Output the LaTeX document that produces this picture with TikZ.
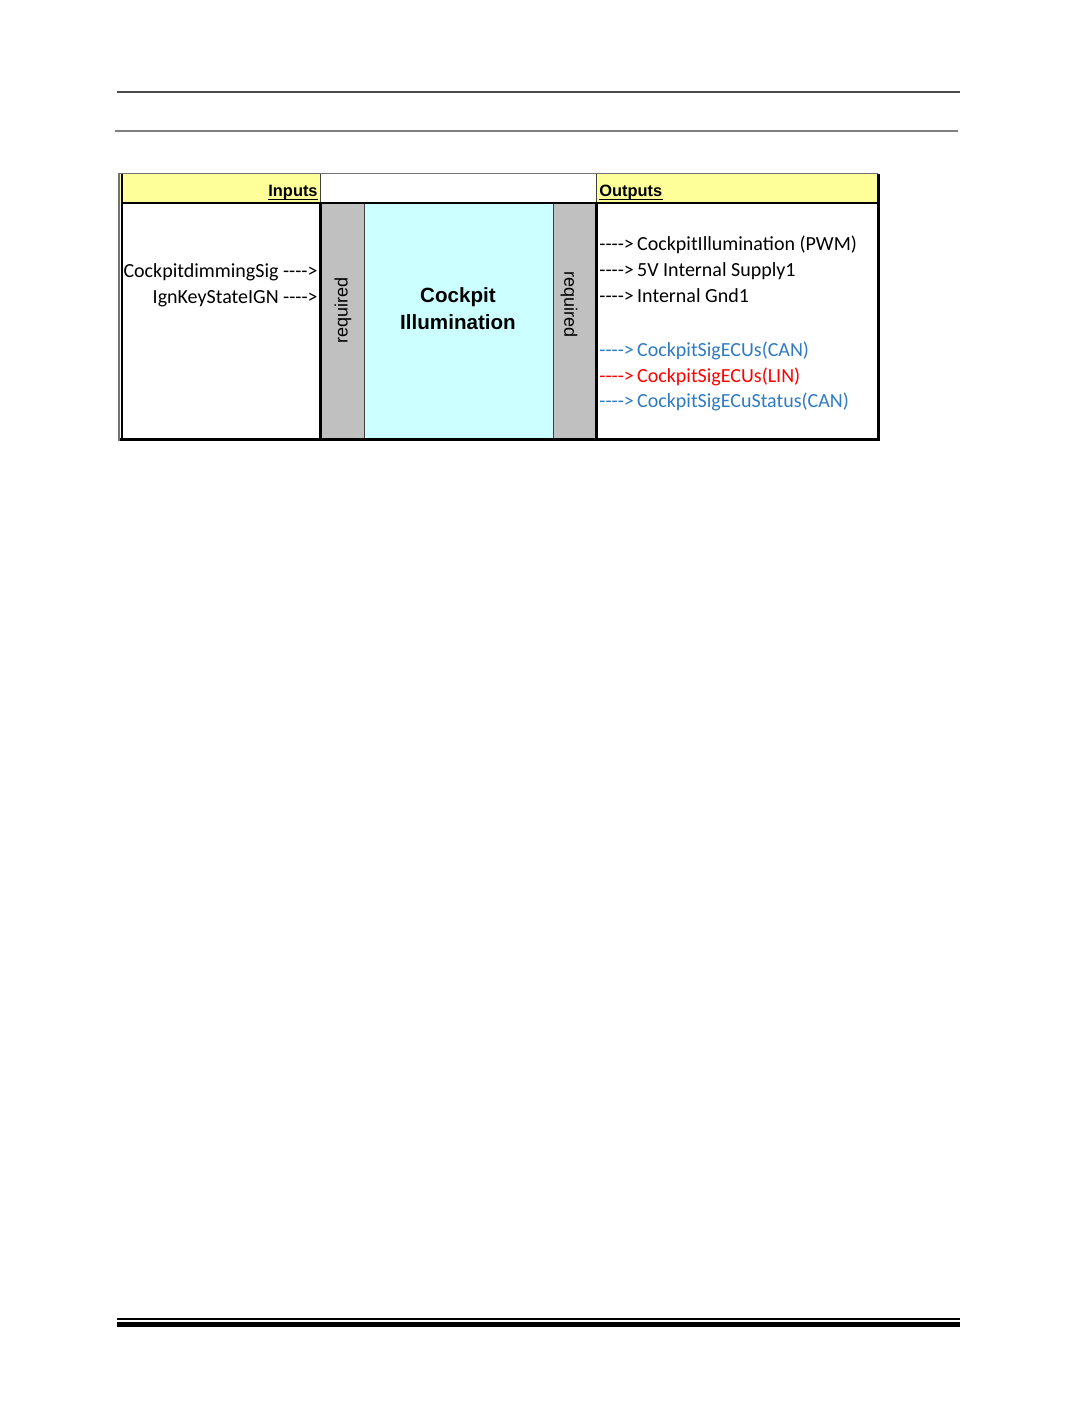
\documentclass[tikz,border=0pt]{standalone}
\usepackage{fontspec}
\setmainfont[Ligatures=TeXOff]{Carlito}
\newfontfamily\arialfont{Liberation Sans}
\definecolor{hdryellow}{HTML}{FFFF99}
\definecolor{reqgray}{HTML}{C0C0C0}
\definecolor{corecyan}{HTML}{CCFFFF}
\definecolor{canblue}{HTML}{2E7BC4}
\definecolor{linred}{HTML}{FF0000}
\begin{document}
\begin{tikzpicture}[x=0.5pt,y=-0.5pt,
  sig/.style={inner sep=0pt, font=\fontsize{10}{12}\selectfont},
  hdr/.style={inner sep=0pt, font=\arialfont\bfseries\fontsize{8.2}{10}\selectfont},
  req/.style={inner sep=0pt, font=\arialfont\fontsize{9}{11}\selectfont},
  thick border/.style={line width=1.5pt, black},
  thin border/.style={line width=0.5pt, black!75}]
\fill[white] (0,0) rectangle (1075,1422);
% page rules
\draw[line width=0.7pt, black!70] (117,92) -- (960,92);
\draw[line width=1pt, black!50] (115,131) -- (958,131);
\draw[line width=0.8pt, black] (117,1319) -- (960,1319);
\draw[line width=2.5pt, black] (117,1324.5) -- (960,1324.5);
% cells
\fill[hdryellow] (120,174) rectangle (320,203);
\fill[hdryellow] (596,174) rectangle (878,203);
\fill[reqgray] (320,203) rectangle (364,440);
\fill[corecyan] (364,203) rectangle (553,440);
\fill[reqgray] (553,203) rectangle (596,440);
% borders
\draw[line width=0.6pt, black!55] (119,441) -- (119,173.5) -- (878,173.5);
\draw[thin border] (320,174) -- (320,203);
\draw[thin border] (596,174) -- (596,203);
\draw[thin border] (364,203) -- (364,440);
\draw[thin border] (553,203) -- (553,440);
\draw[line width=1.2pt] (121,203) -- (878,203);
\draw[line width=1pt] (121.5,174) -- (121.5,441);
\draw[thick border] (320.5,203) -- (320.5,441);
\draw[thick border] (596,203) -- (596,441);
\draw[thick border] (878,174) -- (878,441.5);
\draw[thick border] (120,440) -- (879.5,440);
% headers
\node[hdr, anchor=base east] (inputs) at (318,197) {Inputs};
\node[hdr, anchor=base west] (outputs) at (599,197) {Outputs};
\draw[line width=0.7pt] ([yshift=-1.3pt]inputs.base west) -- ([yshift=-1.3pt]inputs.base east);
\draw[line width=0.7pt] ([yshift=-1.3pt]outputs.base west) -- ([yshift=-1.3pt]outputs.base east);
% inputs
\node[sig, anchor=base east] (dimsig) at (318,278) {CockpitdimmingSig ---->};
\node[sig, anchor=base east] (ignsig) at (318,303.5) {IgnKeyStateIGN ---->};
% function block
\node[req, rotate=90] (reqin) at (343,310) {required};
\node[req, rotate=-90] (reqout) at (569,305) {required};
\node[inner sep=0pt, align=center, font=\arialfont\bfseries\fontsize{10.3}{13.5}\selectfont] (core) at (458,309) {Cockpit\\Illumination};
% outputs
\node[sig, anchor=base west] (out1) at (599,251) {---->\,CockpitIllumination (PWM)};
\node[sig, anchor=base west] (out2) at (599,277) {---->\,5V Internal Supply1};
\node[sig, anchor=base west] (out3) at (599,302.5) {---->\,Internal Gnd1};
\node[sig, anchor=base west, canblue] (out4) at (599,357) {---->\,CockpitSigECUs(CAN)};
\node[sig, anchor=base west, linred] (out5) at (599,382.5) {---->\,CockpitSigECUs(LIN)};
\node[sig, anchor=base west, canblue] (out6) at (599,408) {---->\,CockpitSigECuStatus(CAN)};
\end{tikzpicture}
\end{document}
